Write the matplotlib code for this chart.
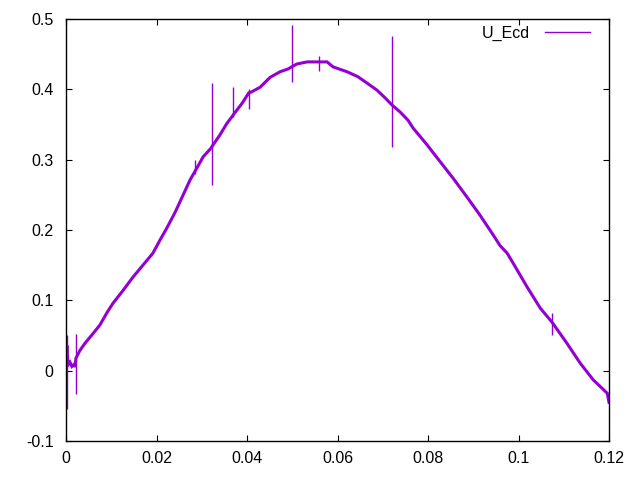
import matplotlib
matplotlib.use("Agg")
import matplotlib.pyplot as plt
from matplotlib.lines import Line2D

plt.rcParams['font.family'] = ['Liberation Sans', 'DejaVu Sans']

# Main curve U_Ecd (x, y)
x_vals = [0.0, 0.0002, 0.00044, 0.00088, 0.0013, 0.0018, 0.0020, 0.0022, 0.0031, 0.0042,
          0.0060, 0.0075, 0.0091, 0.0104, 0.0126, 0.0148, 0.0170, 0.0192, 0.0208, 0.0223,
          0.0241, 0.0259, 0.0274, 0.0290, 0.0303, 0.0320, 0.0325, 0.0340, 0.0356, 0.0369,
          0.0371, 0.0389, 0.0404, 0.0409, 0.0429, 0.0451, 0.0473, 0.0491, 0.0499, 0.0510,
          0.0533, 0.0559, 0.0577, 0.0590, 0.0621, 0.0645, 0.0665, 0.0687, 0.0705, 0.0720,
          0.0738, 0.0756, 0.0767, 0.0798, 0.0827, 0.0855, 0.0886, 0.0915, 0.0944, 0.0959,
          0.0975, 0.0988, 0.1019, 0.1048, 0.1074, 0.1107, 0.1136, 0.1165, 0.1196, 0.1200]
y_vals = [0.011, 0.036, 0.008, 0.012, 0.006, 0.009, 0.005, 0.018, 0.029, 0.039,
          0.053, 0.065, 0.083, 0.096, 0.114, 0.133, 0.150, 0.167, 0.186, 0.203,
          0.225, 0.250, 0.271, 0.289, 0.304, 0.316, 0.321, 0.335, 0.352, 0.363,
          0.365, 0.380, 0.395, 0.396, 0.403, 0.417, 0.425, 0.429, 0.432, 0.436,
          0.439, 0.439, 0.439, 0.432, 0.425, 0.418, 0.409, 0.399, 0.388, 0.378,
          0.368, 0.356, 0.345, 0.321, 0.297, 0.274, 0.247, 0.221, 0.193, 0.178,
          0.167, 0.153, 0.119, 0.089, 0.069, 0.039, 0.011, -0.013, -0.032, -0.045]

# Spikes (x, top, bottom)
spike_x = [0.0002, 0.0021, 0.0285, 0.0323, 0.0370, 0.0405, 0.0500, 0.0560, 0.0721, 0.1075]
spike_top = [0.050, 0.052, 0.299, 0.409, 0.403, 0.400, 0.491, 0.447, 0.476, 0.082]
spike_bot = [-0.055, -0.033, 0.280, 0.264, 0.360, 0.372, 0.410, 0.426, 0.318, 0.050]

x_ticks = [0, 0.02, 0.04, 0.06, 0.08, 0.1, 0.12]
x_labels = ['0', '0.02', '0.04', '0.06', '0.08', '0.1', '0.12']
y_ticks = [-0.1, 0, 0.1, 0.2, 0.3, 0.4, 0.5]
y_labels = ['-0.1', '0', '0.1', '0.2', '0.3', '0.4', '0.5']

color = '#9400D3'

fig = plt.figure(figsize=(6.4, 4.8), dpi=100)
ax = fig.add_axes([66/640, 1-441/480, (609-66)/640, (441-19)/480])

ax.plot(x_vals, y_vals, color=color, lw=2.2, solid_joinstyle='miter')
ax.vlines(spike_x, spike_bot, spike_top, color=color, lw=1.0)

ax.set_xlim(0, 0.12)
ax.set_ylim(-0.1, 0.5)
ax.set_xticks(x_ticks)
ax.set_xticklabels(x_labels)
ax.set_yticks(y_ticks)
ax.set_yticklabels(y_labels)
ax.tick_params(direction='in', length=4.5, width=0.8, top=True, right=True,
               labelsize=11.5, colors='black')
ax.tick_params(axis='y', pad=9)
ax.tick_params(axis='x', pad=7)
for s in ax.spines.values():
    s.set_linewidth(1.0)

handle = Line2D([], [], color=color, lw=1.0)
leg = ax.legend([handle], ['U_Ecd'], loc='upper right', frameon=False,
                markerfirst=False, fontsize=11.5, handlelength=2.85,
                handletextpad=0.9, borderaxespad=0.3, bbox_to_anchor=(0.986, 1.01))

fig.savefig('out.png', dpi=100)
